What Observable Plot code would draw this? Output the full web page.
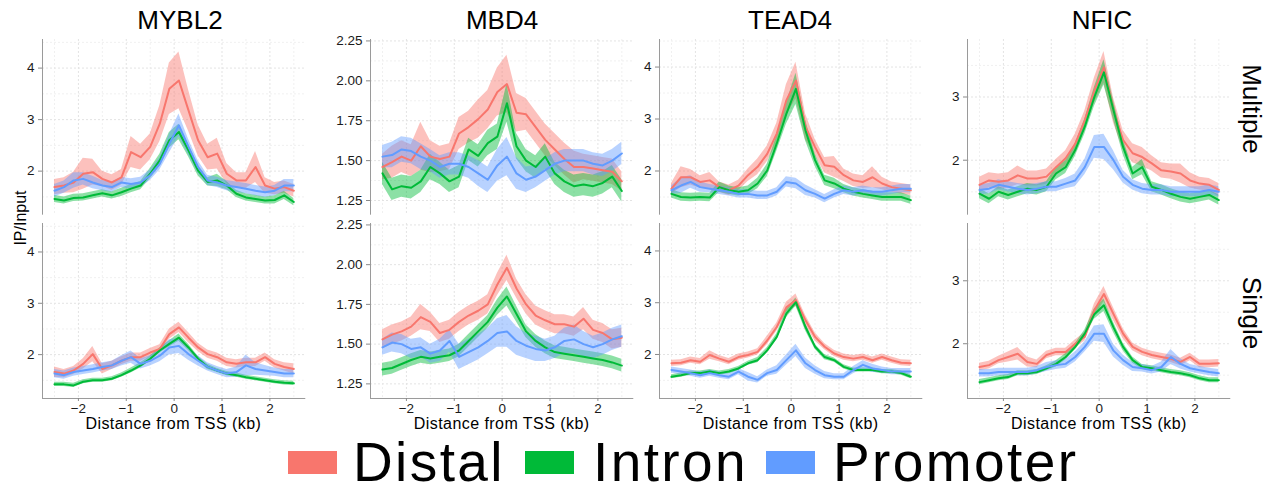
<!DOCTYPE html>
<html><head><meta charset="utf-8">
<script src="https://cdn.jsdelivr.net/npm/d3@7"></script>
<script src="https://cdn.jsdelivr.net/npm/@observablehq/plot@0.6"></script>
<style>
body{margin:0;background:#fff;}
#chart{position:relative;width:1276px;height:494px;overflow:hidden;font-family:"Liberation Sans",Arial,Helvetica,sans-serif;color:#000;background:#fff;}
.abs{position:absolute;white-space:nowrap;line-height:1;}
.panel{position:absolute;}
</style></head><body><div id="chart"></div>
<script>
// ---------- data ----------
const factors = ["MYBL2", "MBD4", "TEAD4", "NFIC"];
const peakSets = ["Multiple", "Single"];
const regions = ["Distal", "Intron", "Promoter"];
const regionColors = ["#F8766D", "#00BA38", "#619CFF"];
const positions = [-2.5,-2.3,-2.1,-1.9,-1.7,-1.5,-1.3,-1.1,-0.9,-0.7,-0.5,-0.3,-0.1,0.1,0.3,0.5,0.7,0.9,1.1,1.3,1.5,1.7,1.9,2.1,2.3,2.5];
const xTicks = [-2, -1, 0, 1, 2];
const xMinor = [-2.5, -1.5, -0.5, 0.5, 1.5, 2.5];
const xDomain = [-2.75, 2.75];
const yDomains = [[1.145, 4.555], [1.158, 2.259], [1.15, 4.53], [1.13, 3.91]];
const yTicks = [[2, 3, 4], [1.25, 1.5, 1.75, 2.0, 2.25], [2, 3, 4], [2, 3]];
const yMinor = [[1.5, 2.5, 3.5, 4.5], [1.375, 1.625, 1.875, 2.125], [1.5, 2.5, 3.5, 4.5], [1.5, 2.5, 3.5]];
const yLabelFormats = ["d", ".2f", "d", "d"];

// MYBL2 – Multiple
const mybl2MultipleDistal   = [1.69,1.72,1.78,1.95,1.98,1.85,1.78,1.88,2.37,2.27,2.47,2.92,3.6,3.76,3.18,2.6,2.27,2.34,1.95,1.82,1.82,2.08,1.72,1.66,1.69,1.62];
const mybl2MultipleDistalSE = [0.15,0.15,0.2,0.3,0.25,0.15,0.15,0.15,0.3,0.25,0.25,0.35,0.5,0.55,0.4,0.3,0.25,0.3,0.2,0.15,0.15,0.3,0.15,0.12,0.12,0.12];
const mybl2MultipleIntron   = [1.46,1.43,1.48,1.49,1.53,1.57,1.53,1.59,1.66,1.72,1.95,2.21,2.6,2.76,2.4,2.01,1.79,1.82,1.72,1.56,1.49,1.46,1.43,1.44,1.53,1.40];
const mybl2MultipleIntronSE = [0.07,0.07,0.07,0.07,0.07,0.07,0.07,0.08,0.08,0.08,0.1,0.12,0.15,0.15,0.12,0.1,0.08,0.12,0.08,0.07,0.07,0.07,0.07,0.08,0.08,0.07];
const mybl2MultiplePromoter   = [1.62,1.69,1.82,1.85,1.78,1.72,1.69,1.78,1.75,1.78,1.92,2.14,2.53,2.89,2.47,2.08,1.82,1.78,1.72,1.69,1.66,1.62,1.59,1.62,1.72,1.72];
const mybl2MultiplePromoterSE = [0.12,0.12,0.15,0.12,0.12,0.1,0.1,0.1,0.1,0.1,0.1,0.12,0.18,0.22,0.15,0.12,0.1,0.1,0.1,0.1,0.1,0.1,0.1,0.1,0.12,0.12];

// MBD4 – Multiple
const mbd4MultipleDistal   = [1.46,1.49,1.525,1.50,1.59,1.525,1.51,1.525,1.67,1.71,1.76,1.82,1.93,1.98,1.80,1.79,1.71,1.63,1.57,1.51,1.46,1.46,1.45,1.44,1.43,1.37];
const mbd4MultipleDistalSE = [0.08,0.1,0.1,0.1,0.15,0.1,0.08,0.08,0.1,0.1,0.12,0.12,0.15,0.18,0.12,0.1,0.1,0.1,0.1,0.1,0.1,0.08,0.08,0.08,0.08,0.06];
const mbd4MultipleIntron   = [1.42,1.32,1.34,1.33,1.37,1.46,1.42,1.37,1.40,1.57,1.53,1.61,1.65,1.86,1.59,1.50,1.46,1.525,1.42,1.37,1.34,1.35,1.34,1.36,1.40,1.31];
const mbd4MultipleIntronSE = [0.07,0.07,0.07,0.07,0.07,0.08,0.07,0.07,0.07,0.07,0.07,0.08,0.08,0.12,0.08,0.07,0.07,0.08,0.07,0.07,0.07,0.07,0.07,0.07,0.07,0.07];
const mbd4MultiplePromoter   = [1.525,1.535,1.57,1.56,1.525,1.50,1.46,1.48,1.48,1.46,1.42,1.38,1.47,1.525,1.42,1.38,1.40,1.44,1.48,1.50,1.50,1.50,1.48,1.47,1.50,1.545];
const mbd4MultiplePromoterSE = [0.07,0.08,0.08,0.08,0.08,0.07,0.07,0.07,0.07,0.07,0.08,0.08,0.1,0.12,0.1,0.08,0.07,0.07,0.07,0.07,0.07,0.07,0.07,0.07,0.07,0.07];

// TEAD4 – Multiple
const tead4MultipleDistal   = [1.66,1.88,1.88,1.79,1.82,1.69,1.63,1.72,1.92,2.08,2.33,2.72,3.36,3.74,2.85,2.46,2.11,2.08,1.92,1.82,1.79,1.88,1.76,1.69,1.66,1.63];
const tead4MultipleDistalSE = [0.1,0.2,0.15,0.12,0.15,0.1,0.1,0.1,0.12,0.15,0.15,0.2,0.3,0.35,0.25,0.15,0.15,0.2,0.12,0.12,0.12,0.2,0.12,0.1,0.1,0.1];
const tead4MultipleIntron   = [1.56,1.50,1.49,1.50,1.49,1.69,1.63,1.60,1.63,1.76,2.01,2.53,3.10,3.58,2.78,2.21,1.82,1.76,1.66,1.60,1.56,1.53,1.50,1.50,1.50,1.44];
const tead4MultipleIntronSE = [0.08,0.08,0.08,0.08,0.08,0.1,0.08,0.08,0.08,0.1,0.12,0.15,0.2,0.3,0.2,0.12,0.1,0.1,0.08,0.08,0.08,0.08,0.08,0.08,0.08,0.08];
const tead4MultiplePromoter   = [1.63,1.72,1.79,1.69,1.66,1.63,1.60,1.56,1.56,1.53,1.53,1.60,1.79,1.76,1.63,1.56,1.47,1.56,1.63,1.60,1.63,1.60,1.60,1.63,1.66,1.66];
const tead4MultiplePromoterSE = [0.08,0.15,0.12,0.1,0.08,0.08,0.08,0.08,0.08,0.08,0.08,0.08,0.1,0.1,0.1,0.08,0.08,0.08,0.08,0.08,0.08,0.08,0.08,0.08,0.08,0.08];

// NFIC – Multiple
const nficMultipleDistal   = [1.61,1.68,1.66,1.68,1.76,1.71,1.71,1.74,1.89,2.03,2.26,2.63,3.1,3.47,2.79,2.32,2.11,2.05,1.95,1.84,1.82,1.79,1.68,1.63,1.61,1.53];
const nficMultipleDistalSE = [0.12,0.12,0.12,0.12,0.15,0.12,0.12,0.12,0.12,0.12,0.15,0.15,0.2,0.25,0.2,0.15,0.15,0.15,0.12,0.12,0.12,0.15,0.12,0.1,0.1,0.1];
const nficMultipleIntron   = [1.47,1.39,1.50,1.45,1.50,1.55,1.53,1.58,1.79,1.89,2.16,2.53,3.0,3.39,2.79,2.21,1.79,1.89,1.58,1.53,1.47,1.42,1.39,1.42,1.45,1.37];
const nficMultipleIntronSE = [0.08,0.08,0.08,0.08,0.08,0.08,0.08,0.08,0.1,0.1,0.1,0.12,0.15,0.2,0.15,0.12,0.1,0.12,0.08,0.08,0.08,0.08,0.08,0.08,0.08,0.08];
const nficMultiplePromoter   = [1.53,1.55,1.61,1.58,1.55,1.53,1.55,1.58,1.58,1.63,1.68,1.89,2.21,2.21,2.0,1.74,1.61,1.55,1.53,1.53,1.50,1.50,1.50,1.50,1.53,1.50];
const nficMultiplePromoterSE = [0.08,0.08,0.08,0.08,0.08,0.08,0.08,0.08,0.08,0.08,0.1,0.12,0.18,0.2,0.15,0.1,0.08,0.08,0.08,0.08,0.08,0.08,0.08,0.08,0.08,0.08];

// MYBL2 – Single
const mybl2SingleDistal   = [1.66,1.63,1.69,1.82,2.01,1.72,1.79,1.88,1.95,1.95,2.04,2.11,2.40,2.53,2.33,2.14,2.01,1.95,1.85,1.82,1.85,1.85,1.95,1.82,1.76,1.72];
const mybl2SingleDistalSE = [0.1,0.08,0.08,0.1,0.15,0.1,0.08,0.08,0.08,0.08,0.08,0.08,0.1,0.1,0.1,0.08,0.08,0.08,0.08,0.08,0.08,0.08,0.08,0.08,0.08,0.1];
const mybl2SingleIntron   = [1.42,1.42,1.40,1.47,1.50,1.50,1.53,1.60,1.69,1.79,1.92,2.08,2.21,2.33,2.14,1.92,1.76,1.69,1.63,1.60,1.56,1.53,1.50,1.47,1.45,1.44];
const mybl2SingleIntronSE = [0.04,0.04,0.04,0.04,0.04,0.04,0.04,0.04,0.05,0.05,0.05,0.05,0.06,0.07,0.06,0.05,0.05,0.04,0.04,0.04,0.04,0.04,0.04,0.04,0.04,0.04];
const mybl2SinglePromoter   = [1.63,1.60,1.66,1.69,1.72,1.76,1.79,1.88,1.95,1.82,1.88,1.98,2.14,2.17,2.01,1.88,1.76,1.69,1.63,1.66,1.79,1.72,1.69,1.66,1.63,1.63];
const mybl2SinglePromoterSE = [0.08,0.08,0.08,0.08,0.08,0.08,0.08,0.1,0.12,0.1,0.1,0.12,0.15,0.15,0.12,0.1,0.08,0.08,0.08,0.1,0.2,0.12,0.1,0.08,0.08,0.08];

// MBD4 – Single
const mbd4SingleDistal   = [1.53,1.56,1.58,1.61,1.67,1.64,1.57,1.59,1.64,1.68,1.71,1.75,1.875,1.98,1.85,1.75,1.68,1.65,1.625,1.625,1.61,1.66,1.59,1.57,1.53,1.54];
const mbd4SingleDistalSE = [0.06,0.06,0.06,0.06,0.08,0.06,0.06,0.06,0.06,0.06,0.06,0.06,0.07,0.08,0.06,0.06,0.06,0.06,0.06,0.06,0.06,0.07,0.06,0.06,0.06,0.06];
const mbd4SingleIntron   = [1.34,1.35,1.375,1.40,1.42,1.41,1.42,1.43,1.46,1.52,1.58,1.64,1.73,1.80,1.69,1.58,1.52,1.48,1.45,1.44,1.43,1.42,1.41,1.40,1.385,1.365];
const mbd4SingleIntronSE = [0.04,0.04,0.04,0.04,0.04,0.04,0.04,0.04,0.04,0.04,0.04,0.04,0.05,0.06,0.05,0.04,0.04,0.04,0.04,0.04,0.04,0.04,0.04,0.04,0.04,0.04];
const mbd4SinglePromoter   = [1.48,1.51,1.50,1.47,1.48,1.44,1.46,1.52,1.42,1.45,1.48,1.52,1.57,1.58,1.52,1.49,1.47,1.46,1.48,1.52,1.53,1.50,1.48,1.50,1.53,1.55];
const mbd4SinglePromoterSE = [0.05,0.06,0.06,0.06,0.06,0.06,0.07,0.07,0.08,0.08,0.08,0.08,0.09,0.1,0.09,0.08,0.08,0.07,0.07,0.08,0.09,0.08,0.07,0.07,0.07,0.07];

// TEAD4 – Single
const tead4SingleDistal   = [1.83,1.84,1.89,1.86,1.99,1.92,1.86,1.95,1.99,2.05,2.27,2.53,2.91,3.05,2.66,2.34,2.15,2.02,1.95,1.92,1.95,1.89,1.95,1.89,1.84,1.83];
const tead4SingleDistalSE = [0.06,0.06,0.06,0.06,0.08,0.06,0.06,0.06,0.06,0.06,0.08,0.08,0.1,0.12,0.1,0.08,0.06,0.06,0.06,0.06,0.06,0.06,0.06,0.06,0.06,0.06];
const tead4SingleIntron   = [1.57,1.60,1.64,1.64,1.67,1.64,1.67,1.73,1.83,1.89,2.08,2.34,2.79,3.01,2.53,2.15,1.95,1.89,1.76,1.70,1.70,1.70,1.67,1.67,1.64,1.57];
const tead4SingleIntronSE = [0.04,0.04,0.04,0.04,0.04,0.04,0.04,0.04,0.04,0.05,0.05,0.06,0.08,0.08,0.07,0.05,0.05,0.04,0.04,0.04,0.04,0.04,0.04,0.04,0.04,0.04];
const tead4SinglePromoter   = [1.70,1.67,1.64,1.60,1.64,1.60,1.57,1.67,1.57,1.51,1.64,1.70,1.89,2.08,1.83,1.70,1.60,1.57,1.57,1.70,1.80,1.73,1.70,1.67,1.67,1.67];
const tead4SinglePromoterSE = [0.06,0.06,0.06,0.06,0.06,0.06,0.06,0.06,0.08,0.06,0.06,0.08,0.1,0.12,0.1,0.08,0.07,0.06,0.06,0.07,0.08,0.08,0.06,0.06,0.06,0.06];

// NFIC – Single
const nficSingleDistal   = [1.63,1.66,1.74,1.79,1.84,1.71,1.68,1.82,1.87,1.87,2.0,2.11,2.53,2.79,2.47,2.16,1.95,1.87,1.82,1.79,1.76,1.71,1.79,1.68,1.68,1.69];
const nficSingleDistalSE = [0.06,0.06,0.06,0.08,0.1,0.08,0.06,0.06,0.06,0.06,0.06,0.07,0.1,0.12,0.1,0.08,0.06,0.06,0.06,0.06,0.06,0.06,0.06,0.06,0.06,0.06];
const nficSingleIntron   = [1.39,1.42,1.45,1.47,1.53,1.53,1.55,1.61,1.68,1.79,1.95,2.16,2.47,2.61,2.26,1.95,1.74,1.63,1.61,1.58,1.55,1.53,1.50,1.45,1.42,1.42];
const nficSingleIntronSE = [0.04,0.04,0.04,0.04,0.04,0.04,0.04,0.04,0.05,0.05,0.05,0.06,0.08,0.1,0.08,0.06,0.05,0.04,0.04,0.04,0.04,0.04,0.04,0.04,0.04,0.04];
const nficSinglePromoter   = [1.53,1.53,1.55,1.55,1.55,1.55,1.58,1.63,1.66,1.68,1.79,1.95,2.16,2.16,1.89,1.74,1.63,1.61,1.58,1.63,1.79,1.68,1.61,1.58,1.55,1.53];
const nficSinglePromoterSE = [0.06,0.06,0.06,0.06,0.06,0.06,0.06,0.07,0.07,0.07,0.08,0.08,0.12,0.14,0.1,0.08,0.07,0.06,0.06,0.08,0.12,0.08,0.06,0.06,0.06,0.06];

// lookup table built from the arrays above
const seriesTable = {
  "MYBL2|Multiple|Distal": [mybl2MultipleDistal, mybl2MultipleDistalSE],
  "MYBL2|Multiple|Intron": [mybl2MultipleIntron, mybl2MultipleIntronSE],
  "MYBL2|Multiple|Promoter": [mybl2MultiplePromoter, mybl2MultiplePromoterSE],
  "MBD4|Multiple|Distal": [mbd4MultipleDistal, mbd4MultipleDistalSE],
  "MBD4|Multiple|Intron": [mbd4MultipleIntron, mbd4MultipleIntronSE],
  "MBD4|Multiple|Promoter": [mbd4MultiplePromoter, mbd4MultiplePromoterSE],
  "TEAD4|Multiple|Distal": [tead4MultipleDistal, tead4MultipleDistalSE],
  "TEAD4|Multiple|Intron": [tead4MultipleIntron, tead4MultipleIntronSE],
  "TEAD4|Multiple|Promoter": [tead4MultiplePromoter, tead4MultiplePromoterSE],
  "NFIC|Multiple|Distal": [nficMultipleDistal, nficMultipleDistalSE],
  "NFIC|Multiple|Intron": [nficMultipleIntron, nficMultipleIntronSE],
  "NFIC|Multiple|Promoter": [nficMultiplePromoter, nficMultiplePromoterSE],
  "MYBL2|Single|Distal": [mybl2SingleDistal, mybl2SingleDistalSE],
  "MYBL2|Single|Intron": [mybl2SingleIntron, mybl2SingleIntronSE],
  "MYBL2|Single|Promoter": [mybl2SinglePromoter, mybl2SinglePromoterSE],
  "MBD4|Single|Distal": [mbd4SingleDistal, mbd4SingleDistalSE],
  "MBD4|Single|Intron": [mbd4SingleIntron, mbd4SingleIntronSE],
  "MBD4|Single|Promoter": [mbd4SinglePromoter, mbd4SinglePromoterSE],
  "TEAD4|Single|Distal": [tead4SingleDistal, tead4SingleDistalSE],
  "TEAD4|Single|Intron": [tead4SingleIntron, tead4SingleIntronSE],
  "TEAD4|Single|Promoter": [tead4SinglePromoter, tead4SinglePromoterSE],
  "NFIC|Single|Distal": [nficSingleDistal, nficSingleDistalSE],
  "NFIC|Single|Intron": [nficSingleIntron, nficSingleIntronSE],
  "NFIC|Single|Promoter": [nficSinglePromoter, nficSinglePromoterSE]
};

// ---------- layout ----------
const chart = document.getElementById("chart");
const panelLeft = [41.7, 370, 659, 967.3];
const panelTop = [39.3, 222.7];
const panelH = [175.7, 175];
const panelW = 263.3;
const ML = 60;
const MB = 20;
const FONT = "'Liberation Sans', Arial, Helvetica, sans-serif";
const fmtX = d3.format("d");

function drawPanel(c, r) {
  const f = factors[c], set = peakSets[r];
  const rows = [];
  regions.forEach(reg => {
    const [m, se] = seriesTable[`${f}|${set}|${reg}`];
    positions.forEach((x, i) => rows.push({x, y: m[i], lo: m[i] - se[i], hi: m[i] + se[i], region: reg}));
  });
  const bottom = r === 1;
  const yd = yDomains[c];
  const marks = [
    Plot.ruleY(yMinor[c], {stroke: "#f0f0f0", strokeDasharray: "2,2"}),
    Plot.ruleX(xMinor, {stroke: "#f0f0f0", strokeDasharray: "2,2"}),
    Plot.ruleY(yTicks[c], {stroke: "#e3e3e3", strokeDasharray: "2,2"}),
    Plot.ruleX(xTicks, {stroke: "#e3e3e3", strokeDasharray: "2,2"}),
    Plot.areaY(rows, {x: "x", y1: "lo", y2: "hi", z: "region", fill: "region", fillOpacity: 0.45}),
    Plot.lineY(rows, {x: "x", y: "y", z: "region", stroke: "region", strokeWidth: 2}),
    Plot.ruleX([xDomain[0]], {stroke: "#9a9a9a"}),
    Plot.axisY({ticks: yTicks[c], tickFormat: d3.format(yLabelFormats[c]), tickSize: 4, tickPadding: 4, label: null, stroke: "#8a8a8a", fill: "#1a1a1a"})
  ];
  if (bottom) {
    marks.push(Plot.ruleY([yd[0]], {stroke: "#9a9a9a"}));
    marks.push(Plot.axisX({ticks: xTicks, tickFormat: fmtX, tickSize: 3, tickPadding: 1.5, label: null, stroke: "#8a8a8a", fill: "#1a1a1a"}));
  }
  const svg = Plot.plot({
    width: ML + panelW,
    height: panelH[r] + (bottom ? MB : 0),
    marginLeft: ML, marginRight: 0, marginTop: 0, marginBottom: bottom ? MB : 0,
    x: {domain: xDomain, axis: bottom ? undefined : null},
    y: {domain: yd},
    color: {domain: regions, range: regionColors},
    style: `font: 13.5px ${FONT}; background: transparent; overflow: visible; color: #1a1a1a;`,
    marks
  });
  const wrap = document.createElement("div");
  wrap.className = "panel";
  wrap.style.left = (panelLeft[c] - ML) + "px";
  wrap.style.top = panelTop[r] + "px";
  wrap.appendChild(svg);
  chart.appendChild(wrap);
}

for (let r = 0; r < 2; r++) for (let c = 0; c < 4; c++) drawPanel(c, r);

function addText(txt, x, y, size, opts = {}) {
  const d = document.createElement("div");
  d.className = "abs";
  d.textContent = txt;
  d.style.fontSize = size + "px";
  if (opts.lineHeight) d.style.lineHeight = opts.lineHeight;
  if (opts.letterSpacing) d.style.letterSpacing = opts.letterSpacing;
  d.style.left = x + "px";
  d.style.top = y + "px";
  d.style.transform = `translate(-50%,-50%)${opts.rotate ? ` rotate(${opts.rotate}deg)` : ""}`;
  chart.appendChild(d);
  return d;
}

// column titles
const titleCenters = [180, 502, 790, 1102];
factors.forEach((f, i) => addText(f, titleCenters[i], 19.5, 26));
// x axis titles
factors.forEach((f, i) => addText("Distance from TSS (kb)", panelLeft[i] + panelW / 2, 423.5, 16, {letterSpacing: "0.45px"}));
// y axis title
addText("IP/Input", 21, 218, 16, {rotate: -90});
// row strips
addText("Multiple", 1252, 109, 26, {rotate: 90});
addText("Single", 1252, 312.5, 26, {rotate: 90});

// legend
const legendSwatchX = [288, 525, 766];
const legendTextX = [353, 593, 833];
const LEG_FS = 55;
const LEG_BASE = 482;
regions.forEach((reg, i) => {
  const s = document.createElement("div");
  s.className = "abs";
  s.style.left = legendSwatchX[i] + "px";
  s.style.top = "451px";
  s.style.width = "49px";
  s.style.height = "23px";
  s.style.background = regionColors[i];
  chart.appendChild(s);
  const t = document.createElement("div");
  t.className = "abs";
  t.textContent = reg;
  t.style.fontSize = LEG_FS + "px";
  t.style.letterSpacing = "2.4px";
  t.style.lineHeight = "1.117";
  t.style.left = legendTextX[i] + "px";
  t.style.top = (LEG_BASE - 0.905 * LEG_FS) + "px";
  chart.appendChild(t);
});
</script></body></html>
